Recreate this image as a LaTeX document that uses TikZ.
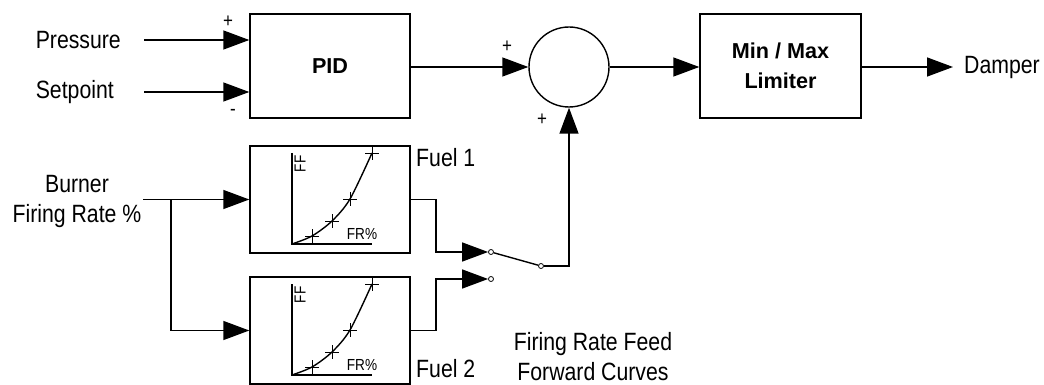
\documentclass[tikz,border=0pt]{standalone}
\usepackage{fontspec}
\setmainfont{Liberation Sans}[FakeStretch=0.85]
\newfontfamily\blockfont{Liberation Sans}
\usetikzlibrary{arrows.meta,calc}
\tikzset{
  sig/.style={line width=1.4pt},
  sigarrow/.style={-{Triangle[length=26pt,width=19pt]},line width=1.4pt},
  block/.style={draw,line width=1.4pt,minimum width=160pt,minimum height=104pt,
    align=center,font=\blockfont\bfseries\fontsize{21.6}{30}\selectfont},
  fuelbox/.style={draw,line width=1.4pt,minimum width=160pt,minimum height=107pt},
  txt/.style={inner sep=0pt,align=center,font=\fontsize{25}{30}\selectfont},
  sign/.style={inner sep=0pt,font=\fontsize{20}{20}\selectfont},
  axlbl/.style={inner sep=0pt,font=\fontsize{16}{16}\selectfont},
  contact/.style={circle,draw,fill=white,line width=0.8pt,inner sep=0pt,minimum size=5pt}
}

\begin{document}
\begin{tikzpicture}[x=1pt,y=-1pt]
    \useasboundingbox (0,0) rectangle (1044,385);
    % blocks
    \node[block] (pid) at (330,66) {PID};
    \node[circle,draw,line width=1.4pt,inner sep=0pt,minimum size=80pt] (sum) at (569,67) {};
    \node[block,minimum width=161pt] (lim) at (780.5,66) {Min / Max\\Limiter};
    \node[fuelbox] (f1) at (330,199.5) {};
    \node[fuelbox] (f2) at (330,330.5) {};
    % inputs
    \node[txt,anchor=east] (press) at (121,40) {Pressure};
    \node[txt,anchor=east] (setp) at (114,92) {Setpoint};
    \coordinate (pin) at (144,40);
    \coordinate (sin) at (144,92);
    \draw[sigarrow] (pin) -- (pid.west |- pin);
    \draw[sigarrow] (sin) -- (pid.west |- sin);
    \node[sign] (plus1) at (228,22) {+};
    \node[sign] (minus1) at (233,112) {-};
    \draw[sigarrow] (pid.east |- sum) -- (sum.west);
    \node[sign] (plus2) at (507,47) {+};
    \node[sign] (plus3) at (542,120) {+};
    \draw[sigarrow] (sum.east) -- (lim.west |- sum);
    \node[txt,anchor=west] (damp) at (964,67) {Damper};
    \draw[sigarrow] (lim.east |- damp) -- ([xshift=-11pt]damp.west);
    % feed forward
    \node[txt] (burner) at (77,201) {Burner\\Firing Rate \%};
    \coordinate (bin) at (143,199.5);
    \coordinate (bsplit) at (171,199.5);
    \draw[sigarrow] (bin) -- (f1.west);
    \draw[sigarrow] (bsplit) |- (f2.west);
    \foreach \b in {f1,f2}{
      \begin{scope}[shift={($(\b.center)+(-38pt,-44.5pt)$)}]
        \draw[sig] (0,-91) -- (0,0) -- (80,0);
        \draw[sig] plot[smooth] coordinates {(0,0) (20,-8) (40,-23) (58,-45) (80,-91)};
        \foreach \p in {(20,-8),(40,-23),(58,-45),(80,-91)}
          \draw[line width=0.7pt] \p ++(-7,0) -- ++(14,0) \p ++(0,-7) -- ++(0,14);
        \node[axlbl,rotate=90] at (8,-80) {FF};
        \node[axlbl] at (70,-10) {FR\%};
      \end{scope}
    }
    \node[txt,anchor=west] (fuel1) at (416,158) {Fuel 1};
    \node[txt,anchor=west] (fuel2) at (416,369) {Fuel 2};
    \node[txt] (ffc) at (593,357) {Firing Rate Feed\\Forward Curves};
    % switch
    \node[contact] (c1) at (491,252) {};
    \node[contact] (c2) at (491,279) {};
    \node[contact] (c3) at (541,266) {};
    \coordinate (j1) at (436,252);
    \coordinate (j2) at (436,279);
    \draw[sigarrow] (f1.east) -| (j1) -- (c1.west);
    \draw[sigarrow] (f2.east) -| (j2) -- (c2.west);
    \draw[sig] (c1) -- (c3);
    \draw[sigarrow] (c3.east) -| (sum.south);
  \end{tikzpicture}
\end{document}
